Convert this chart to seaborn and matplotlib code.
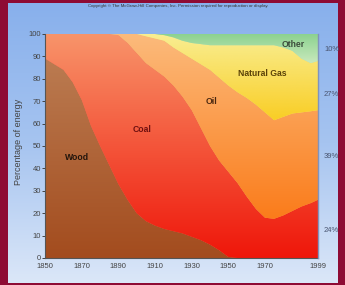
import numpy as np
import matplotlib
matplotlib.use("Agg")
import matplotlib.pyplot as plt
import seaborn as sns
from matplotlib.colors import LinearSegmentedColormap
from matplotlib.path import Path

# Share of US energy use by source (percent)
years = [1850, 1860, 1865, 1870, 1875, 1880, 1885, 1890, 1895, 1900,
         1905, 1910, 1915, 1920, 1925, 1930, 1935, 1940, 1945, 1950,
         1955, 1960, 1965, 1970, 1975, 1980, 1985, 1990, 1995, 1999]
wood = [89, 84, 78.5, 70.5, 59, 50, 41.5, 33, 26, 20,
        16.5, 14.5, 13, 12, 11, 9.5, 8, 6, 3.5, 0.5,
        0, 0, 0, 0, 0, 0, 0, 0, 0, 0]
coal = [11, 16, 21.5, 29.5, 41, 50, 58.5, 66.5, 70, 71.5,
        70.5, 69.5, 68, 65, 61, 56.5, 50, 44, 40, 38,
        33.5, 27.5, 22, 18, 17.5, 19, 21, 23, 24.5, 26]
oil = [0, 0, 0, 0, 0, 0, 0, 0.5, 4, 8.5,
       12, 14, 16, 17, 19.5, 23, 28.5, 34, 37, 38.5,
       40.5, 44, 46.5, 47, 44, 44, 43.5, 42, 41, 40]
gas = [0, 0, 0, 0, 0, 0, 0, 0, 0, 0,
       1, 2, 2.5, 4.5, 5.5, 7, 9, 11, 14.5, 18,
       21, 23.5, 26.5, 30, 33.5, 31, 28, 24, 21.5, 22]
other = [0, 0, 0, 0, 0, 0, 0, 0, 0, 0,
         0, 0, 0.5, 1.5, 3, 4, 4.5, 5, 5, 5,
         5, 5, 5, 5, 5, 6, 7.5, 11, 13, 12]

sources = ["Wood", "Coal", "Oil", "Natural Gas", "Other"]
tick_years = [1850, 1870, 1890, 1910, 1930, 1950, 1970, 1999]
share_labels = ["10%", "27%", "39%", "24%"]

sns.set_theme(style="ticks")
plt.rcParams['font.family'] = ['Liberation Sans', 'DejaVu Sans']

fig = plt.figure(figsize=(3.45, 2.85), dpi=100)
fig.patch.set_facecolor("#8e0b34")

# light blue backdrop inside the maroon frame
bg = fig.add_axes([8 / 345, 2 / 285, 330 / 345, 280 / 285])
bg.imshow(np.linspace(0, 1, 256)[:, None], aspect="auto", extent=[0, 1, 0, 1],
          cmap=LinearSegmentedColormap.from_list("bg", ["#88b0ec", "#a6c4f0", "#dbe7f8"]))
bg.axis("off")
fig.text(178 / 345, 1 - 6 / 285,
         "Copyright \u00a9 The McGraw-Hill Companies, Inc. Permission required for reproduction or display.",
         ha="center", va="center", fontsize=3.2, color="#333333")

ax = fig.add_axes([45 / 345, 27 / 285, 273 / 345, 224 / 285])
ax.patch.set_alpha(0)

base_colors = ["#b06a3c", "#f4502e", "#fb9d4c", "#fbe06a", "#b8e3b0"]
polys = ax.stackplot(years, wood, coal, oil, gas, other, colors=base_colors, linewidth=0)

# vertical colour ramps (bottom colour, top colour, y-range of ramp)
ramps = [("#a34c1e", "#bb7c52", 0, 90),
         ("#ef160a", "#f8946a", 0, 100),
         ("#fa7a18", "#fcbb7c", 15, 100),
         ("#f9c812", "#f9ee92", 55, 100),
         ("#d3edc4", "#8cd290", 85, 100)]
for poly, (c0, c1, y0, y1) in zip(polys, ramps):
    cmap = LinearSegmentedColormap.from_list("r", [c0, c1])
    im = ax.imshow(np.linspace(0, 1, 256)[:, None], cmap=cmap, origin="lower",
                   extent=[1850, 1999, y0, y1], aspect="auto", zorder=1.1)
    im.set_clip_path(Path.make_compound_path(*poly.get_paths()), transform=ax.transData)

ax.set_xlim(1850, 1999)
ax.set_ylim(0, 100)

# labels inside the layers
label_pos = [(1867.5, 45), (1903, 57.5), (1941, 70), (1968.5, 82.5), (1985.5, 95.5)]
label_col = ["#22150c", "#6e1010", "#4a2810", "#5a4208", "#3c4c3c"]
for name, (x, y), c in zip(sources, label_pos, label_col):
    ax.text(x, y, name, ha="center", va="center", fontsize=6.2, fontweight="bold", color=c)

# 1999 shares on the right
for lab, yy in zip(share_labels, [0.933, 0.728, 0.451, 0.125]):
    ax.text(1.022, yy, lab, transform=ax.transAxes, ha="left", va="center",
            fontsize=5.5, color="#4a5570")

ax.set_yticks(range(0, 101, 10))
ax.set_xticks(tick_years)
ax.set_xticks(range(1860, 1999, 10), minor=True)
ax.tick_params(axis="y", direction="out", length=2, width=0.7, pad=1,
               labelsize=5.5, colors="#444444")
ax.tick_params(axis="x", which="major", length=0, pad=3.5, labelsize=5.5, labelcolor="#444444")
ax.tick_params(axis="x", which="minor", direction="in", length=2, width=0.7, color="#5a2a10")
ax.set_ylabel("Percentage of energy", fontsize=6.5, color="#444444")
ax.yaxis.set_label_coords(-0.08, 0.52)
ax.set_xlabel("")

for side in ["left", "bottom"]:
    ax.spines[side].set_color("#555555")
    ax.spines[side].set_linewidth(0.8)
ax.spines["top"].set_visible(False)
ax.spines["right"].set_color("#7f93bd")
ax.spines["right"].set_linewidth(1)
ax.spines["right"].set_zorder(3)
ax.grid(False)

fig.savefig("out.png", dpi=100, facecolor=fig.get_facecolor())
